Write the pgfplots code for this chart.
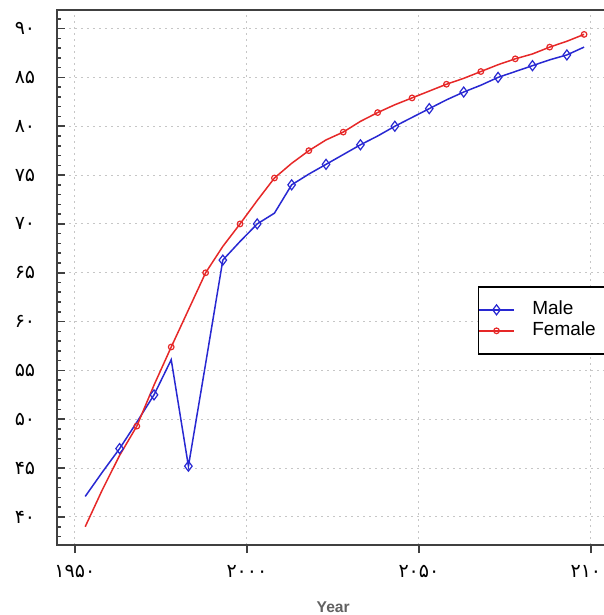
\documentclass[border=0pt]{standalone}
\usepackage{pgfplots}
\pgfplotsset{compat=1.18}
\usepackage{pgfplotstable}
\usepackage{fontspec}
\setmainfont{Liberation Sans}
\newfontfamily\fa{DejaVu Sans}
\definecolor{maleblue}{RGB}{40,40,210}
\definecolor{femalered}{RGB}{230,40,40}
\definecolor{axisgray}{RGB}{64,64,64}

% life expectancy, 5-year steps
\pgfplotstableread{
year male female
1953 42.1 39.0
1958 44.6 42.8
1963 47.0 46.3
1968 49.7 49.3
1973 52.5 53.5
1978 56.1 57.4
1983 45.2 61.2
1988 55.7 65.0
1993 66.3 67.7
1998 68.2 70.0
2003 70.0 72.4
2008 71.1 74.7
2013 74.0 76.2
2018 75.1 77.5
2023 76.1 78.6
2028 77.1 79.4
2033 78.1 80.5
2038 79.0 81.4
2043 80.0 82.2
2048 80.9 82.9
2053 81.8 83.6
2058 82.7 84.3
2063 83.5 84.9
2068 84.2 85.6
2073 85.0 86.3
2078 85.6 86.9
2083 86.2 87.4
2088 86.8 88.1
2093 87.3 88.7
2098 88.1 89.4
}\lifedata

\begin{document}
\begin{tikzpicture}
\useasboundingbox (0,0) rectangle (302pt,307.5pt);
\clip (0,0) rectangle (302pt,307.5pt);
\begin{axis}[
    at={(28.5pt,35pt)}, anchor=south west,
    scale only axis, width=277.3pt, height=267.5pt,
    xmin=1944.8, xmax=2106, ymin=37.13, ymax=91.9,
    axis line style={axisgray, line width=1pt},
    tick pos=left,
    xtick align=outside, ytick align=inside,
    major tick length=4pt, minor tick length=2.2pt,
    tick style={axisgray, line width=0.8pt},
    xtick={1950,2000,2050,2100},
    xticklabels={۱۹۵۰,۲۰۰۰,۲۰۵۰,۲۱۰۰},
    ytick={40,45,...,90},
    yticklabels={۴۰,۴۵,۵۰,۵۵,۶۰,۶۵,۷۰,۷۵,۸۰,۸۵,۹۰},
    minor ytick={38,...,91},
    ticklabel style={font=\fa\fontsize{9.5}{11}\selectfont, black},
    xticklabel style={anchor=center, yshift=-9pt},
    yticklabel style={anchor=center, xshift=-16pt},
    grid=major,
    major grid style={gray!45, dash pattern=on 1pt off 2pt, line width=0.5pt},
    xlabel={\textbf{Year}},
    xlabel style={at={(axis description cs:0.498,0)}, anchor=center, yshift=-31pt,
        font=\fontsize{7.8}{9}\selectfont, text=black!62},
    legend style={at={(0.759,0.484)}, anchor=north west,
        draw=black, line width=0.75pt, fill=white,
        inner xsep=0pt, inner ysep=7pt,
        font=\fontsize{9.5}{10}\selectfont,
        nodes={inner xsep=3pt, inner ysep=0pt, text height=7pt, text depth=2pt},
        column sep=6pt, row sep=1.5pt},
    legend cell align=left,
]

\addplot[maleblue, line width=0.75pt, mark=diamond, mark size=2.5pt,
    mark phase=3, mark repeat=2, mark options={solid, line width=0.6pt}, forget plot]
    table[x=year, y=male] {\lifedata};
\addplot[femalered, line width=0.75pt, mark=o, mark size=1.4pt,
    mark phase=4, mark repeat=2, mark options={solid, line width=0.6pt}, forget plot]
    table[x=year, y=female] {\lifedata};

\addlegendimage{maleblue, line width=0.75pt, mark=diamond, mark size=2.5pt, mark options={line width=0.6pt}}
\addlegendentry{\makebox[42pt][l]{Male}}
\addlegendimage{femalered, line width=0.75pt, mark=o, mark size=1.4pt, mark options={line width=0.6pt}}
\addlegendentry{\makebox[42pt][l]{Female}}

\end{axis}
\end{tikzpicture}
\end{document}
